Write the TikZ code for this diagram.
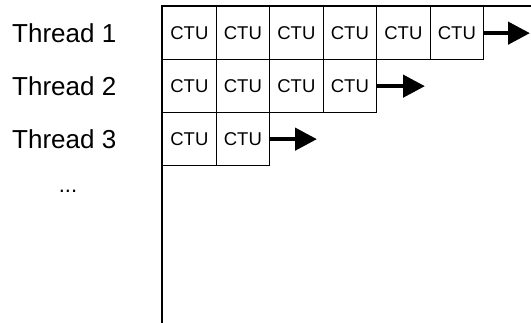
\documentclass[tikz,border=0pt]{standalone}
\usepackage{fontspec}
\setmainfont{Liberation Sans}
\usetikzlibrary{arrows.meta}
\begin{document}
\begin{tikzpicture}[x=1pt,y=-1pt,
  cell/.style={draw,line width=1.3pt, minimum width=53.5pt, minimum height=53pt, inner sep=0pt, font=\fontsize{18.5}{20}\selectfont, anchor=north west},
  lab/.style={font=\fontsize{26}{28}\selectfont, anchor=west, inner sep=0pt},
  flow/.style={line width=4.5pt, -{Triangle[length=22pt,width=22pt]}},
  axis/.style={line width=1.3pt}]
\useasboundingbox (0,0) rectangle (531,323);
% labels
\node[lab] (t1) at (12,33) {Thread 1};
\node[lab] (t2) at (12,86) {Thread 2};
\node[lab] (t3) at (12,139) {Thread 3};
\node[font=\fontsize{22}{24}\selectfont, inner sep=0pt] (dots) at (68,191) {...};
% axes
\coordinate (o) at (162,6);
\coordinate (tr) at (531,6);
\coordinate (bl) at (162,323);
\draw[axis] (tr) -- (o) -- (bl);
% row 1
\node[cell] (a1) at (162,6) {CTU};
\node[cell] (a2) at (215.5,6) {CTU};
\node[cell] (a3) at (269,6) {CTU};
\node[cell] (a4) at (322.5,6) {CTU};
\node[cell] (a5) at (376,6) {CTU};
\node[cell] (a6) at (429.5,6) {CTU};
% row 2
\node[cell] (b1) at (162,59) {CTU};
\node[cell] (b2) at (215.5,59) {CTU};
\node[cell] (b3) at (269,59) {CTU};
\node[cell] (b4) at (322.5,59) {CTU};
% row 3
\node[cell] (c1) at (162,112) {CTU};
\node[cell] (c2) at (215.5,112) {CTU};
% arrows
\coordinate (ea) at (530,0);
\coordinate (eb) at (425,0);
\coordinate (ec) at (317,0);
\draw[flow] (a6.east) -- (a6.east -| ea);
\draw[flow] (b4.east) -- (b4.east -| eb);
\draw[flow] (c2.east) -- (c2.east -| ec);
\end{tikzpicture}
\end{document}
